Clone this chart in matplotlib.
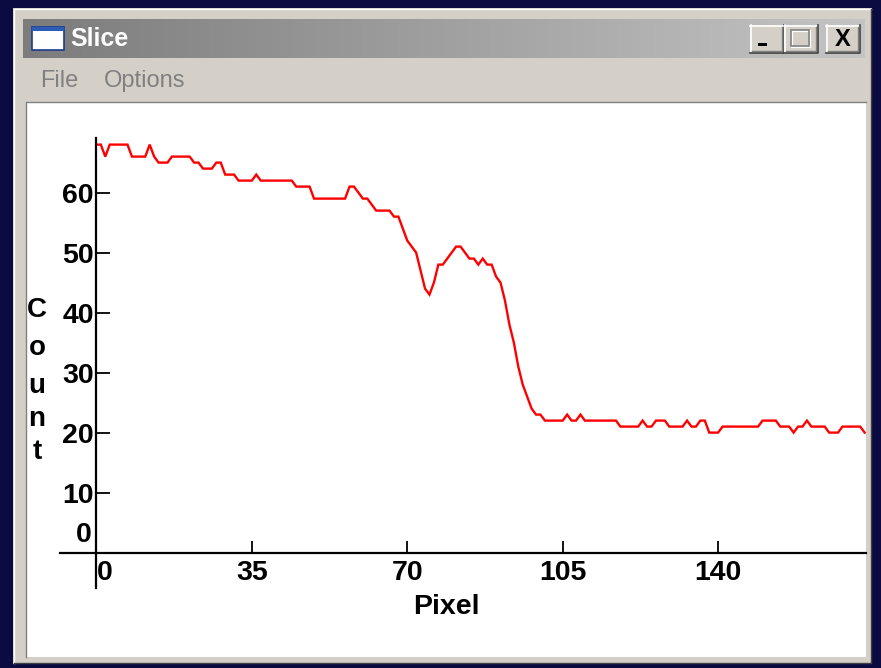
"""Slice profile window: red count trace over pixel index, drawn inside a
classic Windows-style frame."""

import numpy as np
import matplotlib
matplotlib.use("Agg")
import matplotlib.pyplot as plt
from matplotlib.colors import LinearSegmentedColormap
from matplotlib.lines import Line2D
from matplotlib.patches import Rectangle

# ── Data ──────────────────────────────────────────────────────────────────────
count = [
    68, 68, 66, 68, 68, 68, 68, 68, 66, 66,
    66, 66, 68, 66, 65, 65, 65, 66, 66, 66,
    66, 66, 65, 65, 64, 64, 64, 65, 65, 63,
    63, 63, 62, 62, 62, 62, 63, 62, 62, 62,
    62, 62, 62, 62, 62, 61, 61, 61, 61, 59,
    59, 59, 59, 59, 59, 59, 59, 61, 61, 60,
    59, 59, 58, 57, 57, 57, 57, 56, 56, 54,
    52, 51, 50, 47, 44, 43, 45, 48, 48, 49,
    50, 51, 51, 50, 49, 49, 48, 49, 48, 48,
    46, 45, 42, 38, 35, 31, 28, 26, 24, 23,
    23, 22, 22, 22, 22, 22, 23, 22, 22, 23,
    22, 22, 22, 22, 22, 22, 22, 22, 21, 21,
    21, 21, 21, 22, 21, 21, 22, 22, 22, 21,
    21, 21, 21, 22, 21, 21, 22, 22, 20, 20,
    20, 21, 21, 21, 21, 21, 21, 21, 21, 21,
    22, 22, 22, 22, 21, 21, 21, 20, 21, 21,
    22, 21, 21, 21, 21, 20, 20, 20, 21, 21,
    21, 21, 21, 20,
]
pixel = np.arange(len(count))

x_ticks = [0, 35, 70, 105, 140]
y_ticks = [10, 20, 30, 40, 50, 60]

window_title = "Slice"
menu_items = [("File", 40), ("Options", 104)]

# ── Geometry helpers (pixel boxes -> figure fractions) ───────────────────────
W, H = 881, 668
FACE = "#d4d0c8"
BACK = -10  # chrome sits below the axes


def fbox(x0, y0, x1, y1):
    return [x0 / W, 1 - y1 / H, (x1 - x0) / W, (y1 - y0) / H]


def frect(fig, x0, y0, x1, y1, zorder=BACK, **kw):
    l, b, w, h = fbox(x0, y0, x1, y1)
    fig.add_artist(Rectangle((l, b), w, h, transform=fig.transFigure,
                             zorder=zorder, **kw))


def fline(fig, xs, ys, zorder=BACK, **kw):
    fig.add_artist(Line2D([x / W for x in xs], [1 - y / H for y in ys],
                          transform=fig.transFigure, zorder=zorder, **kw))


def button(fig, x0, y0, x1, y1):
    z = 5
    frect(fig, x0, y0, x1, y1, facecolor=FACE, edgecolor="none", zorder=z)
    fline(fig, [x0, x1], [y0 + 0.5, y0 + 0.5], color="white", lw=1.2, zorder=z)
    fline(fig, [x0 + 0.5, x0 + 0.5], [y0, y1], color="white", lw=1.2, zorder=z)
    fline(fig, [x0, x1 - 0.5, x1 - 0.5], [y1 - 0.5, y1 - 0.5, y0],
          color="#404040", lw=1.2, zorder=z)
    fline(fig, [x0 + 1.5, x1 - 2, x1 - 2], [y1 - 2, y1 - 2, y0 + 1.5],
          color="#808080", lw=1.0, zorder=z)


fig = plt.figure(figsize=(W / 100, H / 100), dpi=100, facecolor="#0b0b42")

# ── Window chrome ─────────────────────────────────────────────────────────────
frect(fig, 13, 8, 872, 664, facecolor=FACE, edgecolor="none")
fline(fig, [14, 14, 871], [663, 9, 9], color="white", lw=1.0)
fline(fig, [14, 871, 871], [663, 663, 9], color="#404040", lw=1.0)

tax = fig.add_axes(fbox(23, 19, 865, 58))
tax.imshow(np.linspace(0, 1, 256)[None, :], aspect="auto",
           cmap=LinearSegmentedColormap.from_list("tb", ["#7c7c7c", "#c4c4c4"]))
tax.set_axis_off()

# window icon
frect(fig, 32, 27, 64, 50, facecolor="white", edgecolor="#1c3c8c", lw=1.2, zorder=5)
frect(fig, 32, 27, 64, 31, facecolor="#2a5cb8", edgecolor="none", zorder=5)
fig.text(70 / W, 1 - 39 / H, window_title, color="white", fontsize=18,
         fontweight="bold", family="Liberation Sans", va="center", ha="left")

# caption buttons
button(fig, 750, 25, 784, 53)
button(fig, 784, 25, 818, 53)
button(fig, 826, 25, 860, 53)
frect(fig, 758, 43, 767, 46, facecolor="black", edgecolor="none", zorder=6)
frect(fig, 792, 31, 810, 47, facecolor="none", edgecolor="white", lw=1.6, zorder=6)
frect(fig, 791, 30, 809, 46, facecolor="none", edgecolor="#808080", lw=1.2, zorder=6)
fig.text(843 / W, 1 - 40 / H, "X", fontsize=17, fontweight="bold",
         family="Liberation Sans", ha="center", va="center", zorder=7)

for label, xpos in menu_items:
    fig.text(xpos / W, 1 - 81 / H, label, color="#808080", fontsize=17,
             family="Liberation Sans", ha="left", va="center")

# white client area
frect(fig, 27, 103, 866, 657, facecolor="white", edgecolor="none")
fline(fig, [26, 26, 866], [657, 102, 102], color="#808080", lw=1.0)

# ── Plot ──────────────────────────────────────────────────────────────────────
AX_BOX = (60, 138, 866, 588)
ax = fig.add_axes(fbox(*AX_BOX))
ax.patch.set_visible(False)
ax.plot(pixel, count, color="#ff0000", lw=1.7, solid_joinstyle="miter")

ax.set_xlim(-8.2, 173.3)
ax.set_ylim(-5.9, 69.1)

for side in ("top", "right"):
    ax.spines[side].set_visible(False)
for side in ("left", "bottom"):
    ax.spines[side].set_position(("data", 0))
    ax.spines[side].set_linewidth(1.6)

tick_font = dict(family="Liberation Sans", weight="bold", size=20.5)
ax.set_xticks(x_ticks)
ax.set_yticks(y_ticks)
ax.set_xticklabels([str(v) for v in x_ticks], fontdict=tick_font)
ax.set_yticklabels([str(v) for v in y_ticks], fontdict=tick_font)
ax.xaxis.get_majorticklabels()[0].set_horizontalalignment("left")
ax.tick_params(axis="x", direction="in", length=9, width=1.3, pad=5)
ax.tick_params(axis="y", direction="in", length=10, width=1.3, pad=2)

# the zero count label sits above the x axis line, without a tick
ax.text(-1.0, 2.9, "0", ha="right", va="center", fontfamily="Liberation Sans",
        fontweight="bold", fontsize=20.5)

ax.set_xlabel("Pixel", fontdict=tick_font)
ax.xaxis.set_label_coords((446 - AX_BOX[0]) / (AX_BOX[2] - AX_BOX[0]),
                          (AX_BOX[3] - 607) / (AX_BOX[3] - AX_BOX[1]))
ax.xaxis.label.set_verticalalignment("center")

# stacked y label
for ch, yb in zip("Count", [310, 348, 386, 419, 452]):
    fig.text(37 / W, 1 - yb / H, ch, ha="center", va="center",
             family="Liberation Sans", fontweight="bold", fontsize=20)

fig.savefig("out.png", dpi=100, facecolor=fig.get_facecolor())
